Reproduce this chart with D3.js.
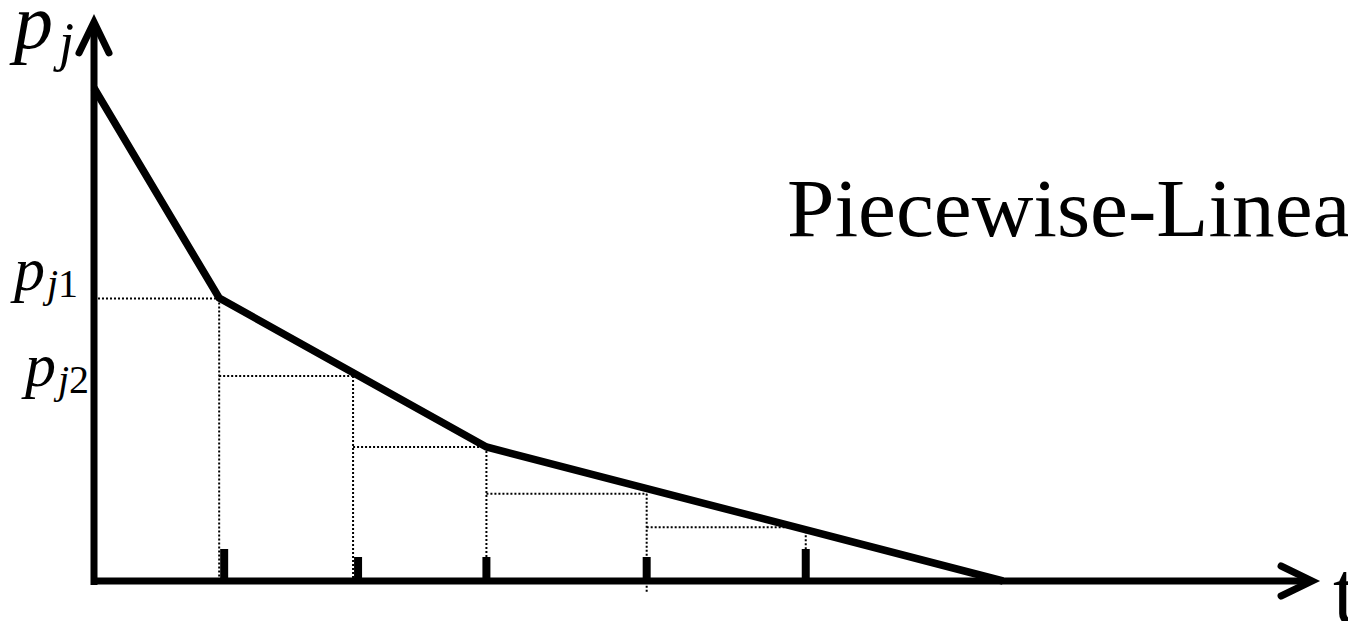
<!DOCTYPE html>
<html><head><meta charset="utf-8">
<script src="https://cdn.jsdelivr.net/npm/d3@7"></script>
<style>html,body{margin:0;padding:0;background:#fff;overflow:hidden}</style>
</head><body>
<svg id="chart" width="1348" height="621"></svg>
<script>
// Breakpoints of the piecewise-linear price curve p_j(t)
const curveT = [0, 1.377, 4.317, 10];
const curveP = [10, 5.74, 2.72, 0];
// Sample times and the price held on each step of the approximation
const stepT = [1.377, 2.85, 4.317, 6.08, 7.83];
const stepP = [5.73, 4.16, 2.72, 1.77, 1.09];
// Steps that carry a price label p_{j1}, p_{j2}
const stepLabelIdx = [0, 1];
const stepLabelSub = ["1", "2"];
const axisMax = {t: 13.4, p: 11.34};
const titleText = "Piecewise-Linear";

const svg = d3.select("#chart");
svg.append("rect").attr("width", 1348).attr("height", 621).attr("fill", "#fff");

const x = d3.scaleLinear().domain([0, 10]).range([94, 1003]);
const y = d3.scaleLinear().domain([0, 10]).range([581, 88]);

const serif = "'Liberation Serif', 'Times New Roman', serif";

// dotted step guides
const guides = svg.append("g").attr("stroke", "#000").attr("stroke-width", 2)
  .attr("stroke-dasharray", "2,2").attr("fill", "none");
stepT.forEach((t, i) => {
  const t0 = i === 0 ? 0 : stepT[i - 1];
  guides.append("line")
    .attr("x1", x(t0)).attr("x2", x(t))
    .attr("y1", y(stepP[i])).attr("y2", y(stepP[i]));
  guides.append("line")
    .attr("x1", x(t)).attr("x2", x(t))
    .attr("y1", y(stepP[i])).attr("y2", y(0) + (i === 3 ? 11 : 0));
});

// the price curve
const line = d3.line().x(d => x(d[0])).y(d => y(d[1]));
svg.append("path")
  .datum(d3.zip(curveT, curveP))
  .attr("d", line)
  .attr("fill", "none").attr("stroke", "#000")
  .attr("stroke-width", 7.5).attr("stroke-linejoin", "miter");

// axes
const axes = svg.append("g").attr("stroke", "#000").attr("stroke-width", 7).attr("fill", "none");
axes.append("line").attr("x1", x(0)).attr("x2", x(0)).attr("y1", y(0) + 4).attr("y2", y(axisMax.p) + 3);
axes.append("line").attr("x1", x(0) - 3).attr("x2", x(axisMax.t) - 3).attr("y1", y(0)).attr("y2", y(0));
// arrowheads
const tipY = [x(0), y(axisMax.p)];
axes.append("path")
  .attr("d", `M${tipY[0] - 15},${tipY[1] + 31}L${tipY[0]},${tipY[1]}L${tipY[0] + 15},${tipY[1] + 31}`)
  .attr("stroke-linecap", "round").attr("stroke-linejoin", "miter");
const tipX = [x(axisMax.t), y(0)];
axes.append("path")
  .attr("d", `M${tipX[0] - 31},${tipX[1] - 15}L${tipX[0]},${tipX[1]}L${tipX[0] - 31},${tipX[1] + 15}`)
  .attr("stroke-linecap", "round").attr("stroke-linejoin", "miter");

// step ticks on the time axis (the first two sit just right of their guide)
const tickShift = [5, 5, 0, 0, 0];
svg.append("g").selectAll("line").data(stepT).join("line")
  .attr("x1", (d, i) => x(d) + tickShift[i]).attr("x2", (d, i) => x(d) + tickShift[i])
  .attr("y1", y(0)).attr("y2", (d, i) => y(0) - (i === 0 || i === 4 ? 32 : 24))
  .attr("stroke", "#000").attr("stroke-width", 8);

// axis labels
const yl = svg.append("text").attr("x", 14).attr("y", 48)
  .attr("font-family", serif).attr("font-style", "italic").attr("font-size", 78);
yl.append("tspan").text("p");
yl.append("tspan").attr("dx", 6).attr("dy", 12).attr("font-size", 54).text("j");

svg.append("text").attr("x", 1333).attr("y", 622)
  .attr("font-family", serif).attr("font-size", 88).text("t");

// step price labels
const offs = [-9, 10];
stepLabelIdx.forEach((k, i) => {
  const tx = svg.append("text")
    .attr("x", i === 0 ? 78 : 89).attr("y", y(stepP[k]) + offs[i])
    .attr("text-anchor", "end")
    .attr("font-family", serif).attr("font-size", 62);
  tx.append("tspan").attr("font-style", "italic").text("p");
  tx.append("tspan").attr("dx", 2).attr("dy", 7).attr("font-size", 40).attr("font-style", "italic").text("j");
  tx.append("tspan").attr("font-size", 40).text(stepLabelSub[i]);
});

// title, slightly widened
svg.append("text")
  .attr("transform", "translate(787,236) scale(1.04,1)")
  .attr("font-family", serif).attr("font-size", 82).text(titleText);
</script>
</body></html>
